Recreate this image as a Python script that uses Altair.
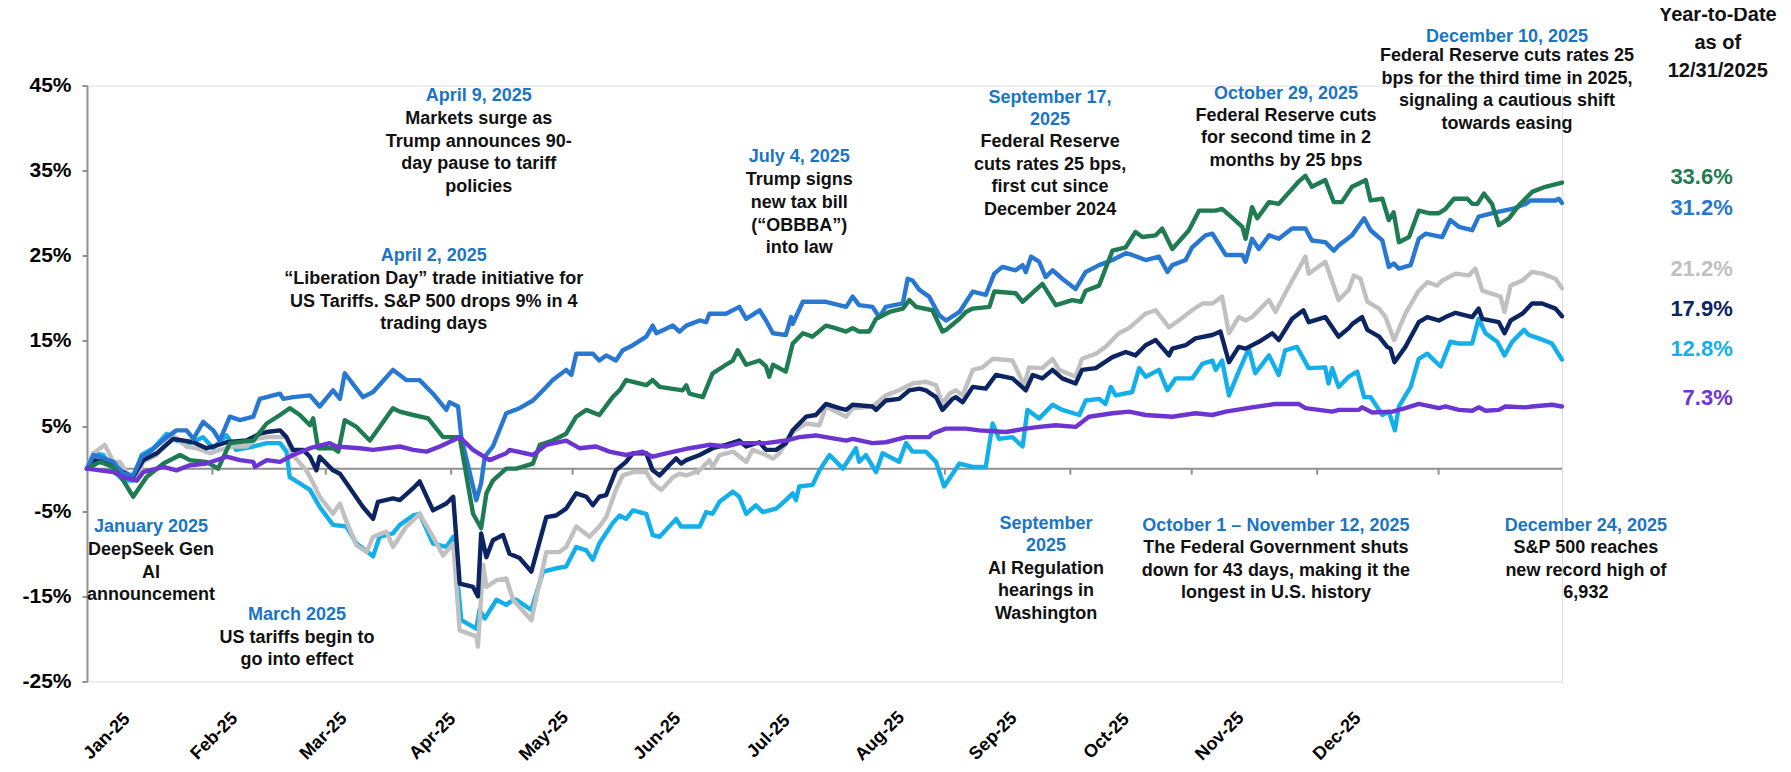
import altair as alt
import pandas as pd

# ---------------- data (day offset from 2025-01-01, YTD return %) ----------------
GREEN = [(0,0.0),(3.2,0.8),(6.5,0.2),(9.0,-1.4),(11.4,-3.3),(14.7,-1.0),(18.9,0.6),(23.0,1.6),(25.4,1.0),
 (29.5,0.8),(32.4,0.0),(35.3,3.0),(41.1,3.3),(44.4,5.3),(47.7,6.3),(50.1,7.1),(52.6,6.3),(55.1,5.1),(55.9,5.9),
 (57.1,2.4),(60.8,2.4),(62.1,2.0),(63.7,5.7),(66.6,4.9),(69.9,3.3),(72.3,4.9),(75.6,7.1),(77.3,6.7),(80.6,6.3),
 (84.3,5.9),(88.0,3.7),(92.1,3.7),(95.4,-5.3),(97.4,-7.0),(98.7,-2.9),(100.3,-1.4),(103.6,0.0),(106.1,0.0),
 (110.2,0.6),(111.9,2.8),(115.1,3.3),(118.4,4.1),(120.9,6.1),(123.4,6.9),(126.6,6.3),(129.9,8.4),(131.6,9.2),
 (133.2,10.4),(138.2,9.8),(139.8,10.4),(141.5,9.6),(147.2,9.2),(148.1,9.8),(148.9,8.8),(152.2,8.4),(154.6,11.2),
 (157.9,12.2),(159.6,12.7),(160.8,13.9),(162.9,12.2),(166.2,12.7),(167.8,12.0),(168.6,10.8),(169.5,12.2),
 (172.7,11.4),(174.4,14.7),(176.9,15.9),(179.3,15.5),(182.6,16.8),(184.3,16.6),(187.6,16.1),(189.2,16.5),
 (190.8,16.1),(193.3,16.1),(195.0,17.6),(198.3,18.4),(201.6,18.8),(203.2,19.8),(204.9,19.0),(208.9,18.6),
 (211.4,16.1),(212.3,16.3),(215.6,17.6),(217.2,18.4),(218.9,18.8),(223.0,19.0),(224.2,20.8),(229.5,20.6),
 (231.2,19.6),(236.1,21.7),(239.4,19.2),(243.5,19.8),(245.6,19.6),(246.8,20.9),(250.1,21.5),(253.4,25.6),
 (256.7,26.0),(259.1,27.8),(260.8,27.2),(264.1,27.4),(265.7,28.2),(268.2,25.8),(272.3,28.0),(274.8,30.3),
 (278.9,30.3),(280.5,30.5),(282.2,29.8),(285.5,28.4),(286.3,27.0),(287.9,30.7),(289.2,29.4),(292.1,31.3),
 (294.5,31.1),(299.4,33.7),(301.1,34.4),(302.7,33.1),(306.0,33.9),(308.1,31.3),(310.1,31.3),(312.6,33.1),
 (314.3,33.5),(316.0,33.9),(317.2,31.5),(320.1,31.7),(321.7,29.2),(322.9,30.1),(324.2,26.6),(326.7,27.2),
 (329.1,30.3),(331.6,30.0),(334.1,30.0),(335.7,30.5),(337.8,31.7),(341.1,31.7),(342.3,31.1),(343.6,31.1),
 (345.2,32.3),(347.2,31.1),(348.9,28.6),(351.4,29.4),(353.8,30.9),(357.1,32.5),(360.4,33.1),(364.5,33.6)]

BLUE = [(0,0.0),(1.6,1.6),(3.2,1.4),(6.5,0.8),(9.0,-0.6),(11.4,-0.8),(13.5,1.4),(15.6,2.0),(19.7,3.7),
 (22.1,4.5),(24.6,4.5),(26.3,3.5),(28.7,5.5),(31.2,4.5),(32.8,3.3),(35.3,6.1),(37.8,5.7),(41.1,6.1),(42.7,8.2),
 (47.7,8.8),(48.5,8.2),(50.9,8.4),(55.1,8.6),(57.5,7.3),(60.8,9.2),(62.5,8.2),(63.7,11.2),(68.2,8.4),(70.7,9.0),
 (75.6,11.6),(78.9,10.4),(82.2,10.4),(85.5,8.8),(88.8,6.9),(89.6,7.8),(91.7,7.3),(92.5,3.7),(96.2,-3.7),
 (97.4,-1.7),(98.3,1.4),(100.3,2.6),(103.6,6.5),(106.9,7.1),(110.2,8.0),(112.7,9.2),(115.1,10.4),(118.4,11.6),
 (119.7,11.0),(120.9,13.5),(125.0,13.5),(126.6,12.7),(128.3,13.3),(130.7,12.7),(132.4,13.9),(134.9,14.5),
 (138.2,15.5),(139.8,16.8),(140.7,15.9),(144.8,16.8),(146.4,16.1),(148.1,16.8),(151.4,17.4),(153.0,17.2),
 (153.8,18.2),(157.9,18.2),(161.2,19.0),(162.9,17.6),(166.2,18.6),(167.8,17.4),(169.5,15.9),(172.7,15.7),
 (174.0,17.8),(174.4,17.0),(176.9,19.6),(182.6,19.6),(187.6,19.0),(189.2,20.2),(190.8,19.2),(194.1,19.0),
 (195.8,17.8),(197.4,19.0),(201.6,19.4),(202.8,22.3),(204.0,22.1),(205.7,21.0),(208.1,20.2),(210.6,18.0),
 (212.3,17.4),(215.6,18.4),(218.9,20.8),(222.1,20.4),(224.2,22.9),(226.2,23.7),(229.5,23.3),(231.2,23.9),
 (232.0,23.1),(233.3,24.9),(235.3,24.3),(236.9,22.5),(238.6,23.3),(241.0,22.3),(244.3,21.1),(246.8,23.1),
 (250.1,23.9),(253.4,24.5),(256.7,25.3),(258.3,25.1),(261.6,24.5),(264.9,24.9),(267.0,23.1),(268.2,23.9),
 (271.5,24.5),(273.1,26.0),(276.4,27.4),(278.1,27.6),(281.4,25.1),(285.5,25.1),(286.3,24.3),(287.9,27.0),
 (289.6,25.8),(292.1,27.4),(294.5,27.0),(297.8,28.2),(301.1,28.2),(302.7,26.8),(306.0,26.6),(308.1,25.6),
 (309.3,26.2),(312.6,27.4),(315.6,29.4),(317.2,28.0),(320.1,26.8),(321.7,23.7),(322.9,24.1),(324.2,23.5),
 (327.1,23.9),(329.1,27.0),(330.8,27.6),(334.9,27.2),(336.9,29.2),(339.0,28.4),(342.3,28.0),(343.9,29.6),
 (348.1,30.1),(352.2,30.5),(355.5,31.1),(356.7,31.5),(362.9,31.5),(363.7,31.7),(364.5,31.2)]

GRAY = [(0,0.0),(1.6,1.8),(4.4,2.8),(6.5,0.8),(8.1,0.8),(10.6,-1.0),(12.3,-1.2),(13.9,0.8),(17.2,1.6),
 (21.3,3.9),(24.6,2.6),(27.1,2.4),(30.4,1.8),(32.8,2.2),(36.1,2.6),(39.4,2.6),(41.9,3.5),(44.4,3.7),(49.3,3.7),
 (50.9,1.6),(54.2,-0.2),(55.9,-1.7),(57.5,-3.3),(60.8,-5.3),(62.5,-4.1),(64.1,-6.2),(66.6,-9.0),(69.1,-9.8),
 (70.7,-8.0),(74.0,-7.4),(75.6,-9.2),(78.9,-6.8),(82.2,-5.3),(85.5,-8.0),(88.0,-10.2),(90.5,-8.8),(92.1,-19.0),
 (96.2,-19.7),(96.6,-20.9),(97.9,-11.3),(98.7,-13.9),(101.2,-13.1),(103.6,-12.9),(105.3,-15.4),(109.8,-17.8),
 (113.5,-9.8),(116.8,-9.8),(118.4,-9.2),(120.9,-6.8),(124.2,-8.0),(126.6,-6.8),(128.3,-5.7),(130.7,-2.5),
 (132.4,-0.8),(134.9,-0.4),(138.2,-0.4),(139.8,-1.7),(141.9,-2.5),(144.8,-1.0),(146.4,-0.6),(148.1,-0.8),
 (151.4,-0.2),(153.8,1.0),(154.6,0.2),(156.3,1.6),(159.6,2.0),(162.9,0.8),(164.5,2.2),(167.8,1.6),(169.5,1.2),
 (171.1,1.8),(172.7,3.0),(174.4,4.3),(177.7,5.3),(181.0,5.1),(182.6,7.3),(185.9,6.5),(187.6,6.1),(189.2,7.1),
 (194.1,7.3),(197.4,8.6),(200.7,9.2),(204.0,10.0),(207.3,10.2),(209.8,9.8),(211.4,7.6),(213.1,8.8),(214.7,9.2),
 (216.4,8.6),(218.9,11.6),(221.3,11.9),(223.8,12.9),(228.7,12.7),(231.6,9.8),(232.8,11.9),(236.1,11.8),
 (238.6,12.9),(240.2,11.6),(244.3,10.8),(245.9,12.9),(249.3,13.5),(251.7,14.3),(255.0,15.9),(257.5,16.5),
 (261.6,18.2),(264.1,18.6),(267.4,16.6),(269.8,17.4),(273.1,18.6),(275.6,19.4),(278.1,19.4),(280.5,20.2),
 (282.2,15.9),(284.6,17.8),(286.3,17.4),(287.9,17.8),(292.1,19.8),(293.7,18.4),(296.1,20.6),(301.1,24.9),
 (301.9,22.9),(306.0,24.3),(309.3,19.8),(311.8,21.0),(313.1,22.7),(314.7,22.3),(316.4,19.6),(319.3,18.8),
 (320.9,17.8),(323.0,15.1),(325.8,18.2),(329.1,20.9),(331.2,21.9),(333.7,21.5),(334.9,22.1),(338.2,22.9),
 (341.5,22.7),(343.1,23.5),(344.8,20.9),(348.1,20.4),(349.3,20.2),(350.3,18.4),(351.8,21.5),(354.7,22.1),
 (357.1,23.1),(359.6,22.9),(362.9,22.3),(364.5,21.2)]

NAVY = [(0,0.0),(1.6,1.0),(4.9,0.8),(8.1,-0.2),(11.4,-1.0),(13.9,1.0),(17.2,1.8),(21.3,3.5),(26.3,3.1),
 (29.5,2.4),(31.2,2.6),(34.5,3.1),(39.4,3.3),(42.7,4.1),(44.4,4.3),(47.7,4.5),(49.3,3.7),(50.9,2.2),(53.4,2.2),
 (55.1,1.4),(56.7,-0.2),(57.5,1.4),(60.8,-0.2),(62.5,-0.6),(64.1,-1.7),(68.2,-4.5),(70.7,-5.9),(71.9,-3.9),
 (75.6,-3.5),(77.3,-3.7),(80.6,-2.3),(82.2,-1.5),(85.5,-4.9),(88.8,-4.1),(90.5,-3.3),(92.1,-13.5),(95.4,-13.9),
 (96.6,-15.0),(97.4,-7.6),(98.7,-10.4),(100.3,-8.4),(102.8,-7.8),(104.4,-10.0),(106.9,-10.5),(109.8,-12.1),
 (113.5,-5.7),(115.9,-5.5),(118.4,-4.7),(120.9,-2.9),(123.4,-3.3),(125.0,-4.3),(126.6,-3.3),(128.3,-3.1),
 (130.7,-0.2),(133.2,0.8),(134.9,1.8),(138.2,1.8),(139.8,-0.2),(141.5,-0.8),(143.9,0.4),(145.6,1.2),(146.8,0.6),
 (148.1,1.0),(151.4,1.6),(154.6,2.4),(157.9,2.8),(161.2,3.3),(162.9,2.6),(166.2,3.1),(167.8,2.2),(170.3,2.2),
 (172.7,3.0),(174.4,4.5),(177.7,6.1),(180.1,6.3),(182.6,7.6),(185.9,7.1),(187.6,6.9),(189.2,7.5),(194.1,7.3),
 (195.0,6.9),(197.4,8.0),(200.7,8.2),(203.2,9.2),(205.7,9.4),(207.3,9.2),(209.8,8.4),(211.4,6.9),(213.9,8.2),
 (214.7,8.4),(216.4,7.8),(218.9,9.6),(222.1,9.4),(224.6,11.0),(228.7,10.6),(232.0,9.2),(233.7,11.0),
 (236.1,10.6),(238.6,11.6),(241.0,10.6),(244.3,10.0),(245.9,11.6),(249.3,11.8),(253.4,13.1),(256.7,13.7),
 (259.1,13.3),(261.6,14.5),(264.1,15.1),(267.4,13.3),(268.2,14.1),(271.5,14.5),(273.9,15.3),(278.1,15.7),
 (280.1,16.1),(282.2,12.5),(284.6,14.3),(286.3,14.1),(289.6,14.9),(292.9,15.9),(294.5,15.1),(297.8,17.6),
 (300.6,18.6),(301.9,17.2),(306.0,17.8),(309.3,15.5),(311.8,16.5),(312.7,17.0),(315.1,17.8),(316.4,16.3),
 (319.3,15.5),(321.3,14.3),(322.1,14.1),(323.1,12.5),(325.8,14.3),(329.1,17.2),(331.2,17.8),(334.1,17.4),
 (335.7,17.8),(338.2,18.3),(342.3,17.8),(343.9,18.8),(344.8,17.6),(348.9,17.2),(350.3,15.9),(351.8,17.4),
 (354.7,18.2),(357.1,19.4),(359.6,19.4),(362.9,18.8),(364.5,17.9)]

LIGHTBLUE = [(0,0.0),(1.6,1.8),(4.0,1.6),(6.5,-0.2),(9.0,-1.4),(11.4,-1.4),(13.5,1.6),(16.4,2.4),(19.7,4.1),
 (22.1,3.3),(25.4,3.0),(28.7,3.7),(31.2,2.4),(34.5,3.9),(36.9,2.2),(41.1,2.6),(44.4,3.0),(47.7,3.0),(49.3,2.0),
 (50.1,-1.0),(51.8,-1.5),(55.1,-2.5),(57.5,-4.5),(60.8,-6.6),(64.1,-6.8),(66.6,-8.8),(70.7,-10.3),(72.3,-8.0),
 (75.6,-7.6),(77.3,-6.6),(80.6,-5.5),(82.2,-5.3),(85.5,-8.8),(88.8,-9.2),(90.5,-8.0),(92.5,-17.8),(96.2,-18.8),
 (97.0,-16.6),(98.3,-17.6),(101.2,-15.4),(103.6,-16.0),(105.3,-15.4),(106.1,-15.4),(109.8,-16.6),(112.7,-12.1),
 (115.9,-11.7),(118.4,-11.5),(120.9,-9.2),(123.4,-9.6),(125.0,-10.7),(126.6,-8.8),(129.9,-6.4),(131.6,-5.5),
 (133.2,-5.9),(134.9,-4.9),(138.2,-5.3),(139.8,-7.8),(141.5,-8.0),(145.6,-5.9),(146.8,-6.8),(151.4,-6.8),
 (153.0,-5.1),(154.6,-5.3),(156.3,-3.9),(159.6,-2.7),(161.2,-3.3),(162.9,-5.3),(165.3,-4.3),(167.0,-5.1),
 (170.3,-4.7),(172.7,-3.7),(174.4,-2.9),(175.2,-3.7),(176.0,-2.1),(179.3,-1.9),(181.0,-0.2),(183.5,1.6),
 (186.8,0.0),(190.0,2.4),(190.8,0.8),(192.5,1.6),(195.0,-0.4),(196.6,1.8),(200.7,0.8),(202.4,3.0),(204.0,2.0),
 (207.3,2.0),(209.8,0.8),(211.8,-2.1),(215.6,0.6),(218.9,0.2),(222.1,0.2),(223.8,5.3),(225.4,3.5),(228.7,3.7),
 (231.2,2.6),(232.4,6.9),(235.3,5.9),(238.6,7.5),(241.0,6.9),(245.2,6.3),(246.8,8.0),(250.1,8.2),(251.7,7.6),
 (253.0,9.6),(254.2,8.6),(258.3,9.0),(260.0,11.8),(261.6,10.8),(264.9,11.6),(267.0,9.2),(269.0,10.6),
 (273.1,10.6),(275.6,12.3),(278.1,12.7),(278.9,11.6),(280.5,12.7),(282.2,8.6),(284.6,11.4),(287.1,14.1),
 (288.7,11.2),(292.1,13.3),(294.5,11.0),(296.1,13.9),(299.0,14.3),(301.9,11.8),(306.0,11.9),(306.8,10.0),
 (307.7,11.8),(309.3,9.6),(311.8,10.8),(313.9,11.4),(315.6,8.4),(317.2,8.4),(320.1,6.3),(321.7,6.7),
 (323.2,4.5),(324.2,7.3),(327.1,9.6),(329.1,12.9),(331.2,13.5),(334.5,12.0),(336.9,14.9),(339.0,14.7),
 (342.3,14.7),(343.9,17.6),(345.6,15.9),(348.5,14.9),(350.3,13.3),(352.2,14.9),(355.1,16.3),(356.3,15.7),
 (358.8,15.3),(362.0,14.7),(364.5,12.8)]

PURPLE = [(0,0.0),(3.2,-0.2),(6.5,-0.4),(9.0,-1.0),(12.3,-1.4),(13.9,-0.4),(18.9,0.2),(22.1,-0.2),(25.4,0.4),
 (29.5,0.6),(34.5,1.4),(37.8,1.0),(41.1,0.8),(41.5,0.2),(44.4,1.0),(47.7,0.8),(50.9,1.6),(55.1,2.4),(60.0,3.0),
 (61.6,2.6),(67.4,2.4),(70.7,2.2),(77.3,2.6),(80.6,2.2),(83.9,2.0),(87.2,2.6),(92.1,3.7),(95.4,2.2),(99.5,1.0),
 (103.6,1.8),(104.4,2.2),(110.2,1.6),(113.5,2.8),(118.4,3.3),(121.7,2.4),(125.8,2.6),(129.1,2.0),(133.2,1.6),
 (137.3,2.0),(139.8,1.4),(143.1,1.8),(148.9,2.4),(153.8,2.8),(157.9,2.6),(161.2,3.0),(167.8,3.0),(172.7,3.3),
 (176.0,3.7),(180.1,3.9),(187.6,3.3),(189.2,3.5),(194.1,3.0),(197.4,3.1),(202.4,3.7),(208.1,3.7),(208.9,4.1),
 (212.2,4.7),(217.2,4.7),(220.5,4.5),(227.1,4.3),(232.0,4.7),(235.3,4.9),(239.4,5.1),(244.3,4.9),(247.6,6.1),
 (253.4,6.5),(257.5,6.7),(261.6,6.3),(268.2,6.1),(273.9,6.5),(278.1,6.3),(281.4,6.7),(287.9,7.2),(293.7,7.6),
 (299.4,7.6),(301.1,7.1),(307.7,6.7),(309.4,6.9),(314.3,6.9),(315.1,7.2),(317.6,6.6),(322.6,6.7),(325.8,7.1),
 (329.1,7.6),(334.1,7.1),(335.7,7.3),(339.0,6.9),(342.3,6.8),(343.9,7.2),(345.6,6.8),(348.9,6.9),(350.5,7.3),
 (355.5,7.2),(357.1,7.3),(362.0,7.5),(364.5,7.3)]

SERIES_NAMES = ["lightblue", "gray", "navy", "blue", "green", "purple"]
SERIES_DATA = [LIGHTBLUE, GRAY, NAVY, BLUE, GREEN, PURPLE]
SERIES_COLORS = ["#12AFEA", "#C0C0C0", "#0C2461", "#2878D2", "#1E7B52", "#6C35D2"]

YTD_LABELS = ["33.6%", "31.2%", "21.2%", "17.9%", "12.8%", "7.3%"]
YTD_COLORS = ["#1E7B52", "#2878D2", "#C0C0C0", "#0C2461", "#12AFEA", "#6C35D2"]
YTD_LABEL_Y = [34.2, 30.6, 23.5, 18.8, 14.1, 8.3]

# x-axis category labels and the day (from Jan 1) under which each one sits
MONTH_LABELS = ["Jan-25", "Feb-25", "Mar-25", "Apr-25", "May-25", "Jun-25",
                "Jul-25", "Aug-25", "Sep-25", "Oct-25", "Nov-25", "Dec-25"]
MONTH_LABEL_DAYS = [5.0, 31.5, 58.5, 85.5, 113.0, 141.0, 168.5, 196.0, 224.0, 252.0, 280.0, 309.0]

# annotations: (anchor day, header top value, body top value, header lines, body lines)
ANNOTATIONS = [
    (85.7, 26.0, 23.3, ["April 2, 2025"],
     ["\u201cLiberation Day\u201d trade initiative for", "US Tariffs. S&P 500 drops 9% in 4", "trading days"]),
    (96.8, 44.8, 42.1, ["April 9, 2025"],
     ["Markets surge as", "Trump announces 90-", "day pause to tariff", "policies"]),
    (176.0, 37.7, 34.9, ["July 4, 2025"],
     ["Trump signs", "new tax bill", "(\u201cOBBBA\u201d)", "into law"]),
    (238.0, 44.6, 39.4, ["September 17,", "2025"],
     ["Federal Reserve", "cuts rates 25 bps,", "first cut since", "December 2024"]),
    (296.3, 45.1, 42.5, ["October 29, 2025"],
     ["Federal Reserve cuts", "for second time in 2", "months by 25 bps"]),
    (350.9, 51.7, 49.5, ["December 10, 2025"],
     ["Federal Reserve cuts rates 25", "bps for the third time in 2025,", "signaling a cautious shift", "towards easing"]),
    (15.8, -5.8, -8.5, ["January 2025"],
     ["DeepSeek Gen", "AI", "announcement"]),
    (51.9, -16.1, -18.8, ["March 2025"],
     ["US tariffs begin to", "go into effect"]),
    (237.0, -5.4, -10.7, ["September", "2025"],
     ["AI Regulation", "hearings in", "Washington"]),
    (293.8, -5.7, -8.3, ["October 1 \u2013 November 12, 2025"],
     ["The Federal Government shuts", "down for 43 days, making it the", "longest in U.S. history"]),
    (370.4, -5.7, -8.3, ["December 24, 2025"],
     ["S&P 500 reaches", "new record high of", "6,932"]),
]

YTD_HEADER = (403.0, 54.5, ["Year-to-Date", "as of", "12/31/2025"])
YTD_LABEL_DAY = 406.7

# ---------------- helpers ----------------
BASE = pd.Timestamp("2025-01-01")


def ts(day):
    return (BASE + pd.to_timedelta(day, unit="D")).strftime("%Y-%m-%dT%H:%M:%S")


FONT = "Liberation Sans"
W, H = 1475, 596
Y_MIN, Y_MAX = -25, 45

xscale = alt.Scale(domain=[alt.DateTime(year=2025, month=1, date=1),
                           alt.DateTime(year=2025, month=12, date=31, hours=12)], nice=False)
yscale = alt.Scale(domain=[Y_MIN, Y_MAX], nice=False, zero=False)

yaxis = alt.Axis(
    values=list(range(Y_MIN, Y_MAX + 1, 10)),
    labelExpr="datum.value + '%'",
    labelFont=FONT, labelFontWeight="bold", labelFontSize=21, labelColor="#000000",
    labelPadding=11, tickSize=5, tickColor="#8F8F8F", tickWidth=2,
    domainColor="#8F8F8F", domainWidth=2, grid=False, title=None,
)

X = alt.X("date:T", scale=xscale, axis=None)
Y = alt.Y("value:Q", scale=yscale, axis=yaxis)

layers = []

# zero line and month ticks on it
layers.append(alt.Chart(alt.Data(values=[{"v": 0}])).mark_rule(color="#8F8F8F", strokeWidth=2)
              .encode(y=alt.Y("v:Q", scale=yscale, axis=yaxis)))
month_rows = [{"date": ts((pd.Timestamp(2025, m, 1) - BASE).days), "value": 0} for m in range(2, 13)]
layers.append(alt.Chart(alt.Data(values=month_rows)).mark_rule(color="#8F8F8F", strokeWidth=2, y2Offset=6)
              .encode(x=X, y=Y, y2=alt.Y2("value")))

# x category labels (rotated), below the plot
lab_rows = [{"date": ts(d), "t": t} for d, t in zip(MONTH_LABEL_DAYS, MONTH_LABELS)]
layers.append(alt.Chart(alt.Data(values=lab_rows)).mark_text(
    font=FONT, fontWeight="bold", fontSize=18, color="#000000", angle=315,
    align="center", baseline="middle", yOffset=55).encode(
    x=X, y=alt.YDatum(Y_MIN, scale=yscale, axis=yaxis), text="t:N"))

# series lines
for name, pts, col in zip(SERIES_NAMES, SERIES_DATA, SERIES_COLORS):
    rows = [{"date": ts(d), "value": v, "series": name} for d, v in pts]
    layers.append(alt.Chart(alt.Data(values=rows)).mark_line(
        color=col, strokeWidth=4.4, strokeJoin="round", strokeCap="round").encode(x=X, y=Y))

# annotations
head_rows = [{"date": ts(a[0]), "value": a[1], "t": a[3]} for a in ANNOTATIONS]
body_rows = [{"date": ts(a[0]), "value": a[2], "t": a[4]} for a in ANNOTATIONS]
layers.append(alt.Chart(alt.Data(values=head_rows)).mark_text(
    font=FONT, fontWeight="bold", fontSize=18, color="#1B75C5", align="center",
    baseline="top", lineHeight=22.6).encode(x=X, y=Y, text="t:N"))
layers.append(alt.Chart(alt.Data(values=body_rows)).mark_text(
    font=FONT, fontWeight="bold", fontSize=18, color="#111111", align="center",
    baseline="top", lineHeight=22.6).encode(x=X, y=Y, text="t:N"))

# YTD header
layers.append(alt.Chart(alt.Data(values=[{"date": ts(YTD_HEADER[0]), "value": YTD_HEADER[1], "t": YTD_HEADER[2]}]))
              .mark_text(font=FONT, fontWeight="bold", fontSize=20, color="#111111", align="center",
                         baseline="top", lineHeight=28).encode(x=X, y=Y, text="t:N"))

# YTD values
ytd_rows = [{"date": ts(YTD_LABEL_DAY), "value": y, "t": t, "c": c}
            for t, y, c in zip(YTD_LABELS, YTD_LABEL_Y, YTD_COLORS)]
layers.append(alt.Chart(alt.Data(values=ytd_rows)).mark_text(
    font=FONT, fontWeight="bold", fontSize=22, align="right", baseline="middle").encode(
    x=X, y=Y, text="t:N", color=alt.Color("c:N", scale=None)))

chart = alt.layer(*layers).properties(
    width=W, height=H,
    autosize=alt.AutoSizeParams(type="none"),
    padding={"left": 79, "top": 77.5, "right": 215, "bottom": 82},
).configure_view(stroke=None).configure(background="#ffffff")

chart.save("out.html", embed_options={"renderer": "svg", "actions": False})
